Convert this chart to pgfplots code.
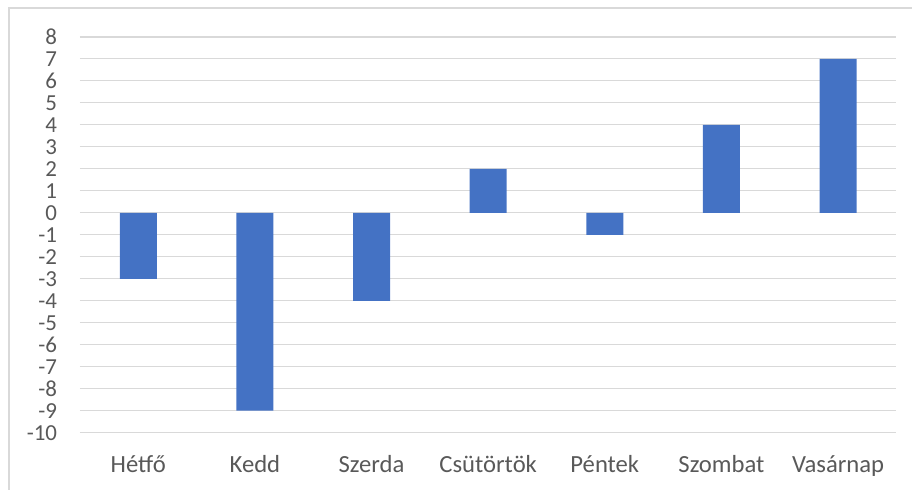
\documentclass[border=0pt]{standalone}
\usepackage{pgfplots}
\pgfplotsset{compat=1.18}
\usepackage{fontspec}
\setmainfont{Carlito}
\definecolor{barblue}{HTML}{4472C4}
\definecolor{gridgray}{HTML}{D9D9D9}
\definecolor{textgray}{HTML}{595959}
\begin{document}
\begin{tikzpicture}
\path (0,0) rectangle (684.75pt,367.5pt);
\draw[gridgray, line width=0.9pt] (6.75pt,0) -- (6.75pt,361.5pt) -- (684.75pt,361.5pt);
\begin{axis}[
  at={(60pt,42.75pt)}, anchor=south west,
  scale only axis, width=612.75pt, height=297pt,
  xmin=-0.5, xmax=6.5, ymin=-10, ymax=8,
  xtick={0,...,6},
  xticklabels={Hétfő,Kedd,Szerda,Csütörtök,Péntek,Szombat,Vasárnap},
  ytick={-10,...,8},
  yticklabels={-10,-9,-8,-7,-6,-5,-4,-3,-2,-1,0,1,2,3,4,5,6,7,8},
  axis line style={draw=none},
  major tick style={draw=none},
  ymajorgrids, grid style={gridgray, line width=0.8pt},
  tick label style={text=textgray},
  y tick label style={font=\fontsize{17.2pt}{19pt}\selectfont, anchor=east, inner sep=0pt, xshift=-17pt},
  x tick label style={font=\fontsize{18.5pt}{21pt}\selectfont, anchor=base, inner sep=0pt, yshift=-30pt},
  clip=false,
]
\addplot[ybar, bar width=27.75pt, bar shift=0pt, fill=barblue, draw=none]
  coordinates {(0,-3) (1,-9) (2,-4) (3,2) (4,-1) (5,4) (6,7)};
\end{axis}
\end{tikzpicture}
\end{document}
